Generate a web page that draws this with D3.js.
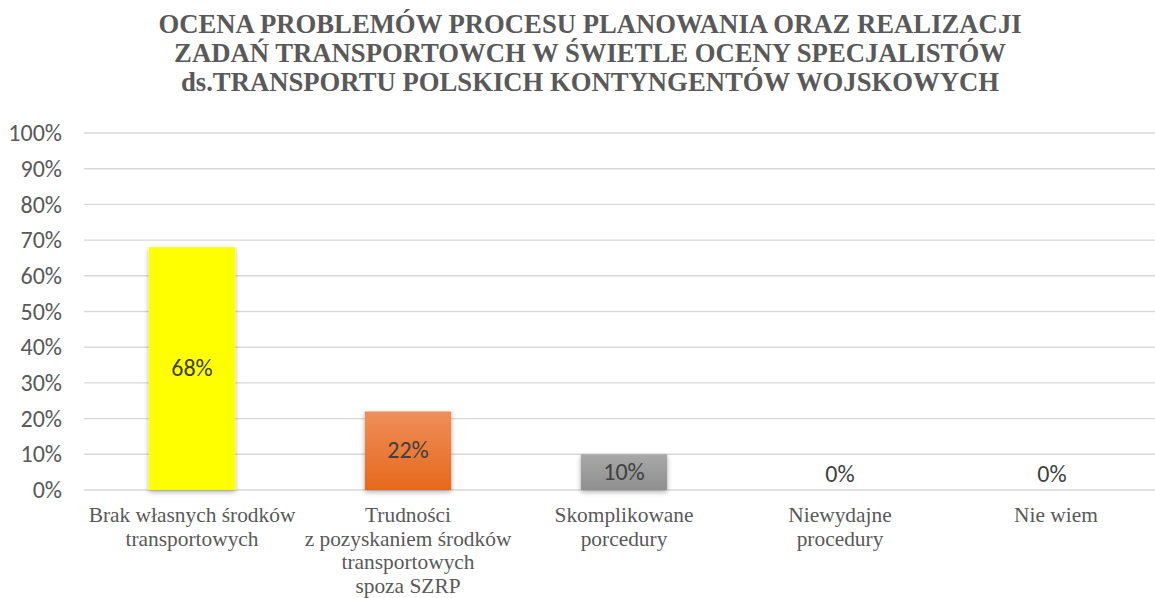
<!DOCTYPE html>
<html>
<head>
<meta charset="utf-8">
<script src="https://cdn.jsdelivr.net/npm/d3@7"></script>
<style>
  html, body { margin: 0; padding: 0; background: #fff; overflow: hidden; }
  svg { display: block; }
</style>
</head>
<body>
<svg id="chart" width="1155" height="598"></svg>
<script>
// Chart data
const titleLines = [
  "OCENA PROBLEMÓW PROCESU PLANOWANIA ORAZ REALIZACJI",
  "ZADAŃ TRANSPORTOWCH W ŚWIETLE OCENY SPECJALISTÓW",
  "ds.TRANSPORTU POLSKICH KONTYNGENTÓW WOJSKOWYCH"
];
const categories = [
  ["Brak własnych środków", "transportowych"],
  ["Trudności", "z pozyskaniem środków", "transportowych", "spoza SZRP"],
  ["Skomplikowane", "porcedury"],
  ["Niewydajne", "procedury"],
  ["Nie wiem"]
];
const values = [0.68, 0.22, 0.10, 0, 0];
const yTicks = [0, 0.1, 0.2, 0.3, 0.4, 0.5, 0.6, 0.7, 0.8, 0.9, 1.0];

const SERIF = '"Liberation Serif", "Times New Roman", serif';
const SANS = 'Carlito, Calibri, Lato, sans-serif';
const W = 1155, H = 598;
const svg = d3.select("#chart");

// Plot area runs a little past the right edge of the canvas
const plot = { left: 84, right: 1164, top: 133, bottom: 490 };

const x = d3.scaleBand()
  .domain(d3.range(categories.length))
  .range([plot.left, plot.right])
  .paddingInner(0.6)
  .paddingOuter(0.3);
const y = d3.scaleLinear().domain([0, 1]).range([plot.bottom, plot.top]);
const pct = d3.format(".0%");

const defs = svg.append("defs");
const shadow = defs.append("filter").attr("id", "shadow")
  .attr("x", "-30%").attr("y", "-30%").attr("width", "160%").attr("height", "160%");
shadow.append("feDropShadow")
  .attr("dx", 0).attr("dy", 2).attr("stdDeviation", 2.5)
  .attr("flood-color", "#000").attr("flood-opacity", 0.32);

function vGrad(id, top, bottom) {
  const g = defs.append("linearGradient").attr("id", id)
    .attr("x1", 0).attr("y1", 0).attr("x2", 0).attr("y2", 1);
  g.append("stop").attr("offset", "0%").attr("stop-color", top);
  g.append("stop").attr("offset", "100%").attr("stop-color", bottom);
}
vGrad("gYellow", "#ffff00", "#ffff00");
vGrad("gOrange", "#ef8e59", "#e5691c");
vGrad("gGrey", "#a8a8a8", "#8f8f8f");
const fills = ["url(#gYellow)", "url(#gOrange)", "url(#gGrey)", "url(#gGrey)", "url(#gGrey)"];

// Title
svg.append("g").selectAll("text").data(titleLines).join("text")
  .attr("x", 590)
  .attr("y", (d, i) => 33 + i * 29)
  .attr("text-anchor", "middle")
  .style("font-family", SERIF)
  .style("font-weight", "bold")
  .style("font-size", "26.7px")
  .style("fill", "#595959")
  .text(d => d);

// Horizontal gridlines
svg.append("g").selectAll("line").data(yTicks).join("line")
  .attr("x1", plot.left).attr("x2", plot.right)
  .attr("y1", d => y(d)).attr("y2", d => y(d))
  .attr("stroke", "#d9d9d9").attr("stroke-width", 1.4);

// Y axis labels
const yAxis = d3.axisLeft(y).tickValues(yTicks).tickFormat(pct).tickSize(0).tickPadding(0);
const ya = svg.append("g").attr("transform", "translate(62,0)").call(yAxis);
ya.select(".domain").remove();
ya.selectAll("text")
  .attr("dy", "0.32em")
  .style("font-family", SANS)
  .style("font-size", "24px")
  .style("fill", "#595959");

// Bars
svg.append("g").selectAll("rect").data(values.map((v, i) => ({ v, i })).filter(d => d.v > 0)).join("rect")
  .attr("x", d => x(d.i))
  .attr("y", d => y(d.v))
  .attr("width", x.bandwidth())
  .attr("height", d => y(0) - y(d.v))
  .attr("fill", d => fills[d.i])
  .attr("filter", "url(#shadow)");

// Value labels: centred in the bar, or just above the axis for empty bars
svg.append("g").selectAll("text").data(values).join("text")
  .attr("x", (d, i) => x(i) + x.bandwidth() / 2 - (i === 4 ? 4 : 0))
  .attr("y", d => d > 0 ? (y(d) + y(0)) / 2 : y(0) - 16)
  .attr("dy", "0.32em")
  .attr("text-anchor", "middle")
  .style("font-family", SANS)
  .style("font-size", "24px")
  .style("fill", "#404040")
  .text(d => pct(d));

// Category labels
const cat = svg.append("g").selectAll("text").data(categories).join("text")
  .attr("text-anchor", "middle")
  .style("font-family", SERIF)
  .style("font-size", "21.4px")
  .style("fill", "#595959");
cat.selectAll("tspan").data((d, i) => d.map(t => ({ t, i }))).join("tspan")
  .attr("x", d => x(d.i) + x.bandwidth() / 2)
  .attr("y", (d, j) => 522 + j * 23.7)
  .text(d => d.t);
</script>
</body>
</html>
